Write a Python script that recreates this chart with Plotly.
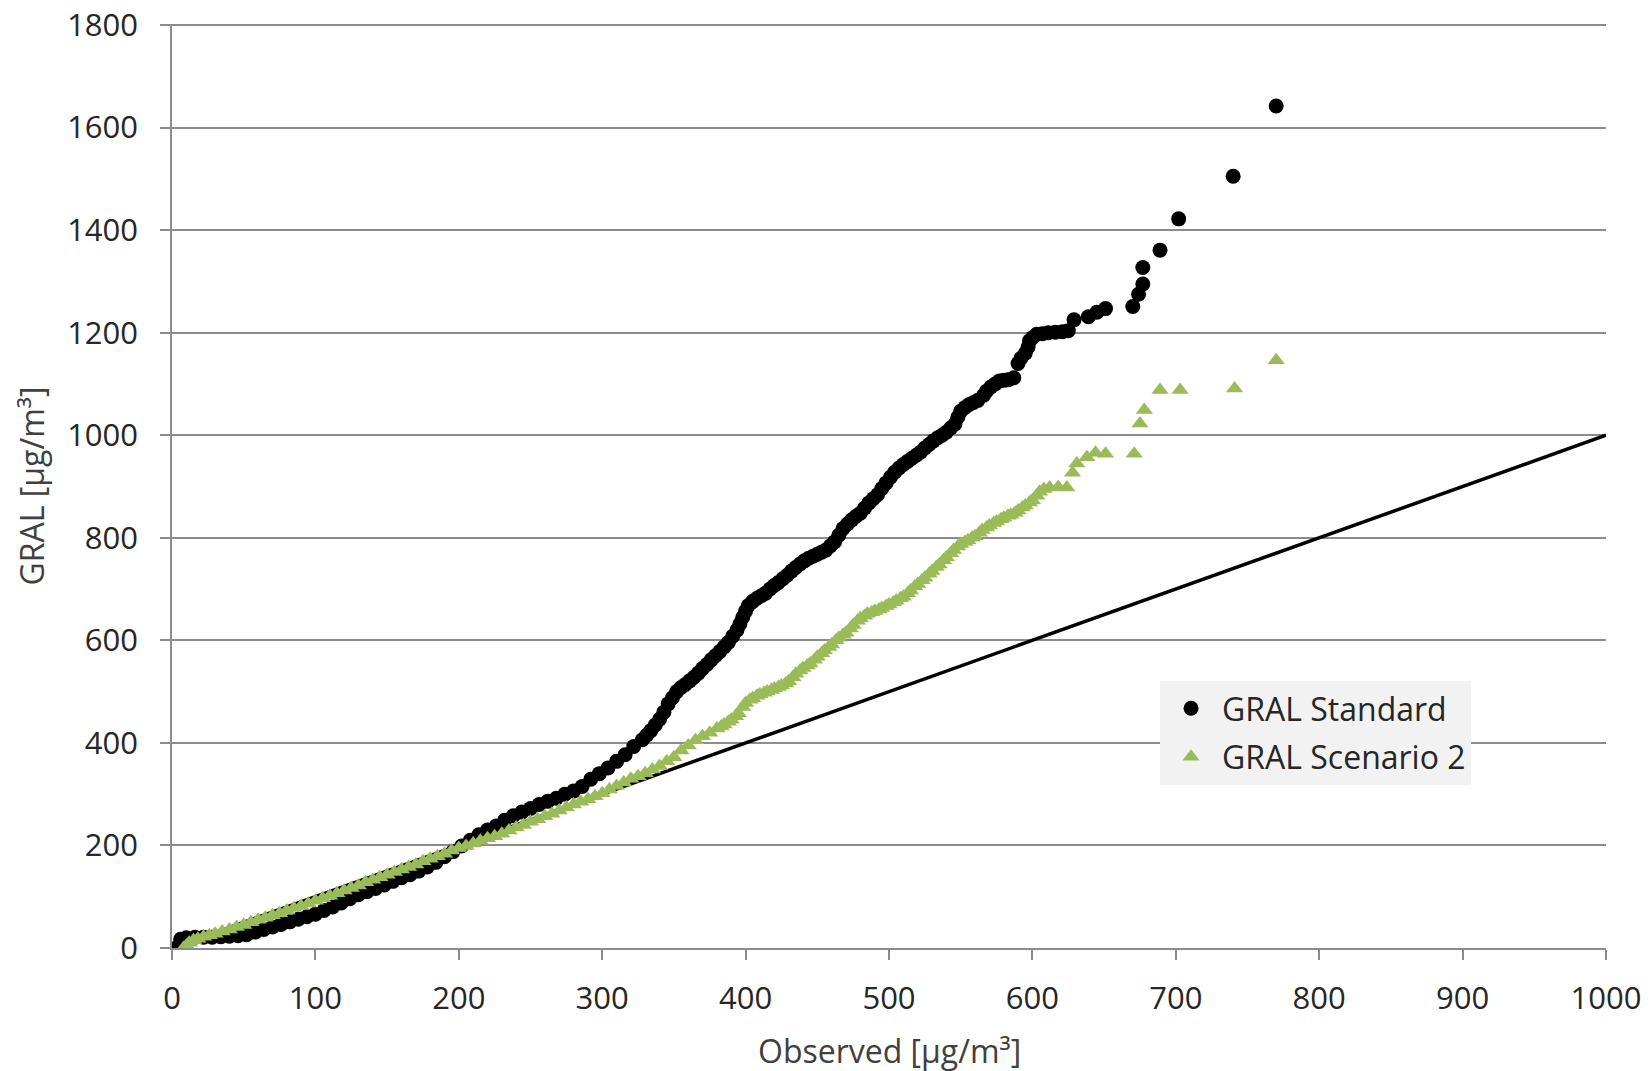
import plotly.graph_objects as go

# GRAL Standard (black circles): observed vs modelled
std_x = [3, 6, 10, 16, 22, 28, 34, 40, 46, 52, 58, 64, 70, 76, 82, 88, 94, 100, 106, 112,
         118, 124, 130, 136, 142, 148, 154, 160, 166, 172, 178, 184, 190, 196, 202, 208, 214,
         220, 226, 232, 238, 244, 250, 256, 262, 268, 274, 280, 286, 292, 298, 304, 310, 316,
         322, 328, 331, 334, 337, 340, 343, 346, 349, 352, 355, 358, 361, 364, 367, 370, 373,
         376, 379, 382, 385, 388, 391, 394, 396, 398, 400, 402, 405, 408, 411, 414, 417, 420,
         423, 426, 429, 432, 435, 438, 441, 444, 447, 450, 453, 456, 459, 462, 465, 468, 471,
         474, 477, 480, 483, 486, 489, 492, 495, 498, 501, 504, 507, 510, 513, 516, 519, 522,
         525, 528, 531, 534, 537, 540, 543, 546, 548, 550, 553, 556, 559, 562, 566, 568, 571,
         574, 577, 580, 583, 587, 590, 592, 595, 597, 598, 600, 603, 607, 611, 616, 621, 625,
         629, 639, 645, 651, 670, 674, 677, 677, 689, 702, 740, 770]
std_y = [0, 17, 20, 21, 21, 21, 22, 23, 24, 26, 31, 36, 41, 46, 51, 56, 61, 66, 73, 80,
         88, 96, 104, 110, 116, 123, 130, 137, 143, 150, 158, 167, 178, 188, 199, 210, 221,
         230, 238, 249, 258, 265, 272, 280, 286, 292, 300, 306, 315, 329, 340, 351, 364, 377,
         393, 406, 415, 424, 435, 446, 460, 476, 488, 500, 508, 514, 521, 528, 536, 545, 553,
         562, 570, 578, 587, 596, 608, 620, 632, 645, 657, 668, 676, 682, 687, 692, 700, 707,
         713, 720, 727, 735, 742, 749, 755, 760, 764, 768, 772, 776, 784, 792, 805, 818, 827,
         835, 842, 848, 858, 868, 876, 884, 896, 907, 918, 928, 936, 943, 949, 955, 961, 967,
         975, 982, 989, 995, 1000, 1006, 1014, 1022, 1035, 1047, 1054, 1060, 1064, 1068, 1078, 1086, 1094,
         1100, 1106, 1107, 1108, 1112, 1140, 1150, 1160, 1172, 1184, 1190, 1197, 1198, 1200, 1201, 1202, 1204,
         1225, 1231, 1240, 1247, 1251, 1275, 1295, 1327, 1361, 1422, 1505, 1642]

# GRAL Scenario 2 (green triangles)
sc2_x = [8, 10, 12, 15, 18, 22, 26, 30, 35, 40, 45, 50, 55, 60, 65, 70, 75, 80, 85, 90,
         95, 100, 105, 110, 115, 120, 125, 130, 135, 140, 145, 150, 155, 160, 165, 170, 175,
         180, 185, 190, 195, 200, 205, 210, 215, 220, 225, 230, 235, 240, 245, 250, 255, 260,
         265, 270, 275, 280, 285, 290, 295, 300, 305, 310, 315, 320, 325, 330, 335, 340, 345,
         350, 355, 360, 365, 370, 375, 380, 383, 385, 388, 390, 393, 395, 398, 400, 403, 405,
         408, 410, 413, 415, 418, 420, 423, 425, 428, 430, 433, 435, 438, 440, 443, 445, 448,
         450, 453, 455, 458, 460, 463, 465, 468, 470, 473, 475, 478, 480, 483, 485, 488, 490,
         493, 495, 498, 500, 503, 505, 508, 510, 513, 515, 518, 520, 523, 525, 528, 530, 533,
         535, 538, 540, 543, 545, 548, 550, 553, 555, 558, 560, 563, 565, 568, 570, 573, 575,
         578, 580, 583, 585, 588, 590, 593, 595, 598, 600, 603, 605, 608, 612, 618, 624, 628,
         631, 638, 644, 651, 671, 675, 678, 689, 703, 741, 770]
sc2_y = [0, 5, 10, 15, 18, 22, 25, 28, 32, 36, 41, 45, 50, 55, 59, 64, 68, 73, 78, 82,
         87, 92, 97, 102, 107, 112, 117, 122, 128, 133, 138, 143, 148, 153, 158, 163, 169,
         174, 179, 184, 190, 195, 199, 204, 209, 214, 218, 223, 229, 235, 240, 246, 251, 257,
         262, 268, 274, 280, 285, 290, 296, 302, 309, 316, 323, 330, 335, 341, 348, 355, 364,
         372, 385, 395, 405, 413, 420, 428, 432, 436, 441, 445, 452, 458, 470, 478, 484, 487,
         492, 495, 498, 500, 503, 506, 509, 512, 516, 520, 528, 535, 541, 546, 551, 555, 562,
         568, 575, 580, 587, 592, 600, 605, 611, 615, 623, 630, 638, 643, 648, 652, 655, 657,
         660, 663, 667, 670, 674, 677, 682, 685, 692, 697, 705, 710, 717, 722, 730, 735, 743,
         748, 756, 762, 770, 776, 783, 788, 792, 795, 800, 803, 810, 815, 820, 824, 829, 832,
         836, 839, 843, 845, 849, 853, 859, 863, 869, 873, 882, 890, 895, 898, 899, 898, 927,
         945, 957, 966, 964, 964, 1023, 1049, 1088, 1088, 1091, 1146]

# 1:1 reference line
line_x = [0, 1000]
line_y = [0, 1000]

x_ticks = list(range(0, 1001, 100))
y_ticks = list(range(0, 1801, 200))

FONT = "Open Sans"
GREEN = "#9BBB59"
GRID = "#8C8C8C"

fig = go.Figure()
fig.add_trace(go.Scatter(x=line_x, y=line_y, mode="lines",
                         line=dict(color="black", width=3.5), showlegend=False,
                         hoverinfo="skip"))
fig.add_trace(go.Scatter(x=std_x, y=std_y, mode="markers", name="GRAL Standard",
                         legendgroup="a",
                         marker=dict(symbol="circle", size=15, color="black",
                                     line=dict(width=0))))
fig.add_trace(go.Scatter(x=sc2_x, y=sc2_y, mode="markers", name="GRAL Scenario 2",
                         legendgroup="b",
                         marker=dict(symbol="triangle-up", size=15, color=GREEN,
                                     line=dict(width=0))))

axis_common = dict(
    showline=True, linecolor=GRID, linewidth=1.5,
    ticks="outside", ticklen=10, tickwidth=1.5, tickcolor=GRID,
    tickfont=dict(family=FONT, size=31, color="#262626"),
    zeroline=False, ticklabeloverflow="allow", automargin=False,
)

fig.update_xaxes(range=[0, 1000], tickvals=x_ticks, ticktext=[str(v) for v in x_ticks],
                 showgrid=False, ticklabelstandoff=12, **axis_common)
fig.update_yaxes(range=[0, 1802], tickvals=y_ticks, ticktext=[str(v) for v in y_ticks],
                 showgrid=True, gridcolor=GRID, gridwidth=1.5,
                 ticklabelstandoff=16, **axis_common)

fig.add_annotation(text="Observed [µg/m³]", xref="paper", yref="paper",
                   x=0.5, y=-0.111, xanchor="center", yanchor="middle", showarrow=False,
                   font=dict(family=FONT, size=32, color="#404040"))
fig.add_annotation(text="GRAL [µg/m³]", xref="paper", yref="paper",
                   x=-0.098, y=0.5, xanchor="center", yanchor="middle", showarrow=False,
                   textangle=-90, font=dict(family=FONT, size=32, color="#404040"))

fig.update_layout(
    width=1650, height=1071,
    margin=dict(l=172, r=44, t=24, b=123),
    paper_bgcolor="white", plot_bgcolor="white",
    legend=dict(x=0.689, y=0.289, xanchor="left", yanchor="top",
                bgcolor="#F2F2F2", borderwidth=0, tracegroupgap=4,
                traceorder="grouped", itemwidth=52,
                font=dict(family=FONT, size=32, color="#262626")),
    font=dict(family=FONT),
)

fig.write_html("out.html", config={"displayModeBar": False},
               post_script="document.body.style.margin='0';document.body.style.overflow='hidden';")
